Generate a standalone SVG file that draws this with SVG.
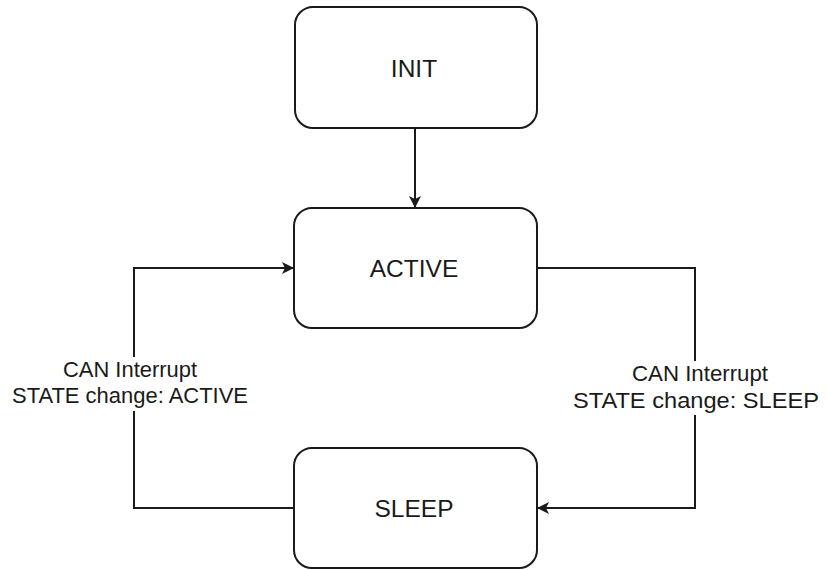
<svg xmlns="http://www.w3.org/2000/svg" width="827" height="570" viewBox="0 0 827 570">
<defs>
<style>
.box{fill:#fff;stroke:#1a1a1a;stroke-width:2}
.t{font-family:"Liberation Sans",Arial,sans-serif;fill:#1a1a1a;text-anchor:middle}
.nt{font-size:24.5px}
.lt{font-size:21.5px}
.c{fill:none;stroke:#1a1a1a;stroke-width:2}
</style>
<marker id="ah" viewBox="0 0 12 12" refX="11" refY="6" markerWidth="12" markerHeight="12" markerUnits="userSpaceOnUse" orient="auto">
<path d="M0,0 L12,6 L0,12 L3,6 Z" fill="#1a1a1a"/>
</marker>
</defs>
<rect width="827" height="570" fill="#fff"/>
<g id="connectors">
<path class="c" d="M415,128 L415,207" marker-end="url(#ah)"/>
<path class="c" d="M294,508 L134,508 L134,268 L293,268" marker-end="url(#ah)"/>
<path class="c" d="M537,268 L695,268 L695,508 L538,508" marker-end="url(#ah)"/>
<rect x="8" y="357" width="246" height="54" fill="#fff"/>
<text class="t lt" x="130" y="377" textLength="134" lengthAdjust="spacingAndGlyphs">CAN Interrupt</text>
<text class="t lt" x="130" y="403" textLength="236" lengthAdjust="spacingAndGlyphs">STATE change: ACTIVE</text>
<rect x="570" y="361" width="252" height="54" fill="#fff"/>
<text class="t lt" x="700" y="381" textLength="136" lengthAdjust="spacingAndGlyphs">CAN Interrupt</text>
<text class="t lt" x="696" y="408" textLength="246" lengthAdjust="spacingAndGlyphs">STATE change: SLEEP</text>
</g>
<g id="init">
<rect class="box" x="295" y="7" width="242" height="121" rx="18"/>
<text class="t nt" x="414" y="77">INIT</text>
</g>
<g id="active">
<rect class="box" x="294" y="208" width="243" height="120" rx="18"/>
<text class="t nt" x="414" y="277">ACTIVE</text>
</g>
<g id="sleep">
<rect class="box" x="294" y="448" width="243" height="120" rx="18"/>
<text class="t nt" x="414" y="517">SLEEP</text>
</g>
</svg>
